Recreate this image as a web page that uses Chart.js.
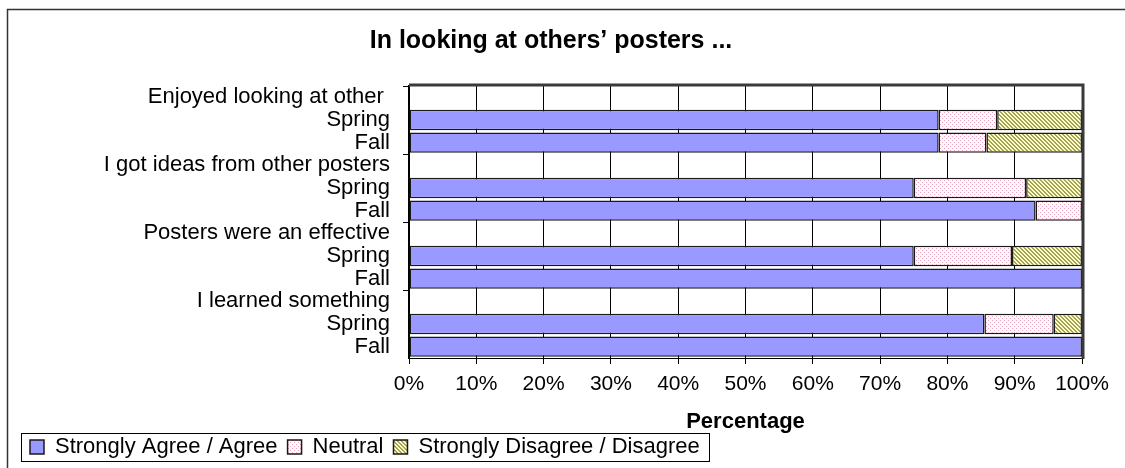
<!DOCTYPE html>
<html>
<head>
<meta charset="utf-8">
<title>In looking at others' posters</title>
<script src="https://cdn.jsdelivr.net/npm/chart.js@4.4.1/dist/chart.umd.min.js"></script>
<style>
    html, body { margin: 0; padding: 0; background: #ffffff; }
    #wrap { width: 1125px; height: 468px; position: relative; }
</style>
</head>
<body>
<div id="wrap"><canvas id="posterChart"></canvas></div>
<script>
// Chart data
const categories = ['Enjoyed looking at other ', 'Spring', 'Fall', 'I got ideas from other posters', 'Spring', 'Fall',
    'Posters were an effective', 'Spring', 'Fall', 'I learned something', 'Spring', 'Fall'];
const seriesNames = ['Strongly Agree / Agree', 'Neutral', 'Strongly Disagree / Disagree'];
const agreeValues = [null, 78.7, 78.7, null, 75.0, 93.1, null, 75.0, 100, null, 85.5, 100];
const neutralValues = [null, 8.7, 7.1, null, 16.7, 6.9, null, 14.6, null, null, 10.3, null];
const disagreeValues = [null, 12.6, 14.2, null, 8.3, null, null, 10.4, null, null, 4.2, null];
const percentTicks = [0, 10, 20, 30, 40, 50, 60, 70, 80, 90, 100];

const FONT = "'Liberation Sans', Arial, Helvetica, sans-serif";
Chart.defaults.font.family = FONT;
Chart.defaults.color = '#000000';

// Small bitmap tiles like the Excel fill patterns
function makePattern(bg, fg, size, isDot) {
    const c = document.createElement('canvas');
    c.width = size;
    c.height = size;
    const p = c.getContext('2d');
    p.fillStyle = bg;
    p.fillRect(0, 0, size, size);
    p.fillStyle = fg;
    for (let y = 0; y < size; y++) {
        for (let x = 0; x < size; x++) {
            if (isDot) {
                if ((x === 0 && y === 0) || (x === 2 && y === 2)) p.fillRect(x, y, 1, 1);
            } else {
                const d = (x - y + size) % size;
                if (d === 0 || d === 1) p.fillRect(x, y, 1, 1);
            }
        }
    }
    return p.createPattern(c, 'repeat');
}

const neutralFill = makePattern('#fffafc', '#e8a3bf', 4, true);
const disagreeFill = makePattern('#ffffc4', '#a3a35e', 4, false);

const PAD_LEFT = 20;

// Outer frame, plot border and legend box
const framePlugin = {
    id: 'framePlugin',
    afterDraw(chart) {
        const ctx = chart.ctx;
        const a = chart.chartArea;
        ctx.save();

        // outer chart frame (runs off the right and bottom edge)
        ctx.strokeStyle = '#333333';
        ctx.lineWidth = 1.5;
        ctx.strokeRect(7.5, 9.5, 1300, 600);

        // plot area shadow border on top and right
        ctx.strokeStyle = '#3a3a3a';
        ctx.lineWidth = 3;
        ctx.beginPath();
        ctx.moveTo(a.left, a.top - 1);
        ctx.lineTo(a.right + 1, a.top - 1);
        ctx.lineTo(a.right + 1, a.bottom + 1);
        ctx.stroke();

        // box round the legend items
        const boxes = chart.legend.legendHitBoxes;
        if (boxes && boxes.length) {
            const first = boxes[0];
            const last = boxes[boxes.length - 1];
            ctx.strokeStyle = '#000000';
            ctx.lineWidth = 1;
            const x0 = Math.round(first.left - 9) + 0.5;
            const y0 = Math.round(first.top - 3) + 0.5;
            const x1 = Math.round(last.left + last.width + 9) + 0.5;
            const y1 = Math.round(first.top + first.height + 3) + 0.5;
            ctx.strokeRect(x0, y0, x1 - x0, y1 - y0);
        }
        ctx.restore();
    }
};

const ctx = document.getElementById('posterChart').getContext('2d');
ctx.canvas.width = 1125;
ctx.canvas.height = 468;

new Chart(ctx, {
    type: 'bar',
    data: {
        labels: categories,
        datasets: [
            {
                label: seriesNames[0],
                data: agreeValues,
                backgroundColor: '#9999ff',
                borderColor: '#1a1a1a',
                borderWidth: 1.5,
                borderSkipped: false
            },
            {
                label: seriesNames[1],
                data: neutralValues,
                backgroundColor: neutralFill,
                borderColor: '#1a1a1a',
                borderWidth: 1.5,
                borderSkipped: false
            },
            {
                label: seriesNames[2],
                data: disagreeValues,
                backgroundColor: disagreeFill,
                borderColor: '#1a1a1a',
                borderWidth: 1.5,
                borderSkipped: false
            }
        ]
    },
    options: {
        indexAxis: 'y',
        responsive: false,
        animation: false,
        categoryPercentage: 1.0,
        barPercentage: 0.9,
        layout: {
            padding: { left: PAD_LEFT, right: 43, top: 10, bottom: 0 }
        },
        scales: {
            x: {
                stacked: true,
                min: 0,
                max: 100,
                afterBuildTicks: scale => {
                    scale.ticks = percentTicks.map(v => ({ value: v }));
                },
                afterFit: scale => { scale.height = 68; },
                ticks: {
                    font: { size: 21 },
                    color: '#000000',
                    padding: 8,
                    maxRotation: 0,
                    callback: v => v + '%'
                },
                grid: {
                    color: '#000000',
                    lineWidth: 1,
                    tickLength: 6
                },
                border: { display: true, color: '#000000', width: 1 },
                title: {
                    display: true,
                    text: 'Percentage',
                    font: { size: 22, weight: 'bold', lineHeight: 0.5 },
                    color: '#000000',
                    padding: { top: 0, bottom: -1 }
                }
            },
            y: {
                stacked: true,
                afterFit: scale => {
                    scale.width = 409 - PAD_LEFT;
                    scale.paddingTop = 0;
                    scale.paddingBottom = 0;
                },
                ticks: {
                    font: { size: 22 },
                    color: '#000000',
                    padding: 13,
                    autoSkip: false
                },
                grid: {
                    drawOnChartArea: false,
                    tickLength: 6,
                    color: c => (c.index % 3 === 0 ? '#000000' : 'rgba(0,0,0,0)')
                },
                border: { display: true, color: '#000000', width: 2 }
            }
        },
        plugins: {
            title: {
                display: true,
                text: 'In looking at others\u2019 posters ...',
                font: { size: 25, weight: 'bold', lineHeight: 1.2 },
                color: '#000000',
                padding: { top: 16, bottom: 30 }
            },
            legend: {
                position: 'bottom',
                align: 'start',
                labels: {
                    font: { size: 22 },
                    color: '#000000',
                    boxWidth: 14,
                    boxHeight: 14,
                    padding: 10
                }
            },
            tooltip: { enabled: false }
        }
    },
    plugins: [framePlugin]
});
</script>
</body>
</html>
